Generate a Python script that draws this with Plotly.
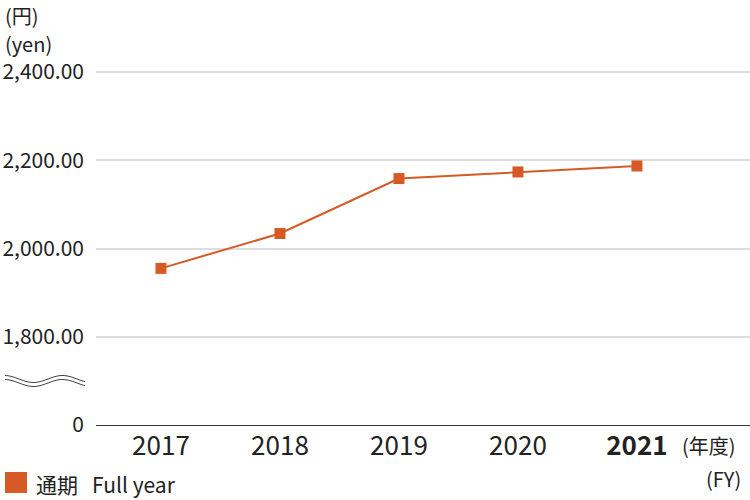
import plotly.graph_objects as go
import numpy as np

years = ["2017", "2018", "2019", "2020", "2021"]
year_labels = ["2017", "2018", "2019", "2020", "<b>2021</b>"]
values = [1955, 2034, 2158.5, 2173.5, 2187]
ytick_vals = [1600, 1800, 2000, 2200, 2400]
ytick_text = ["0", "1,800.00", "2,000.00", "2,200.00", "2,400.00"]

COLOR = "#d65a25"
FONT = "Noto Sans CJK JP"
W, H = 750, 500
L, R, T, B = 96, 0, 70, 75
pw, ph = W - L - R, H - T - B
YTOP = 1600 + 800 * ph / 353.0

def px(x):
    return (x - L) / pw

def py(y):
    return (H - B - y) / ph

fig = go.Figure()
fig.add_trace(go.Scatter(
    x=years, y=values, mode="lines+markers",
    line=dict(color=COLOR, width=2),
    marker=dict(symbol="square", size=11, color=COLOR),
    showlegend=False, name="通期 Full year",
))

shapes = []
# axis break squiggle
for off in (0, 4):
    xs = np.linspace(5, 85, 41)
    ys = 379 + off + 3.5 * np.sin((xs - 19) / 58 * 2 * np.pi)
    path = "M " + " L ".join(f"{px(a):.5f},{py(b):.5f}" for a, b in zip(xs, ys))
    shapes.append(dict(type="path", xref="paper", yref="paper", path=path,
                       line=dict(color="#444", width=1)))
# legend square
shapes.append(dict(type="rect", xref="paper", yref="paper",
                   x0=px(5), x1=px(27), y0=py(493), y1=py(472),
                   fillcolor=COLOR, line=dict(width=0)))

annotations = [
    dict(text="(円)", x=px(3), y=py(16), xref="paper", yref="paper",
         xanchor="left", yanchor="middle", showarrow=False, font=dict(size=20)),
    dict(text="(yen)", x=px(3), y=py(43), xref="paper", yref="paper",
         xanchor="left", yanchor="middle", showarrow=False, font=dict(size=20)),
    dict(text="(年度)", x=px(680), y=py(445), xref="paper", yref="paper",
         xanchor="left", yanchor="middle", showarrow=False, font=dict(size=20)),
    dict(text="(FY)", x=px(743), y=py(478), xref="paper", yref="paper",
         xanchor="right", yanchor="middle", showarrow=False, font=dict(size=20)),
    dict(text="通期   Full year", x=px(34), y=py(484), xref="paper", yref="paper",
         xanchor="left", yanchor="middle", showarrow=False, font=dict(size=21)),
]

fig.update_layout(
    width=W, height=H,
    margin=dict(l=L, r=R, t=T, b=B),
    paper_bgcolor="white", plot_bgcolor="white",
    font=dict(family=FONT, color="#222", size=21),
    shapes=shapes, annotations=annotations,
    xaxis=dict(
        type="category", range=[-0.546, 4.95],
        tickvals=years, ticktext=year_labels,
        showgrid=False, showline=True, linecolor="#333", linewidth=1,
        ticks="", tickfont=dict(size=26), ticklabelstandoff=-2,
        zeroline=False,
    ),
    yaxis=dict(
        range=[1600, YTOP], tickvals=ytick_vals, ticktext=ytick_text,
        showgrid=True, gridcolor="#dddddd", gridwidth=1.5,
        zeroline=False, ticks="", tickfont=dict(size=21),
        ticklabelstandoff=11,
    ),
)

fig.write_html("out.html", post_script="document.body.style.margin='0';",
               config={"displayModeBar": False})
